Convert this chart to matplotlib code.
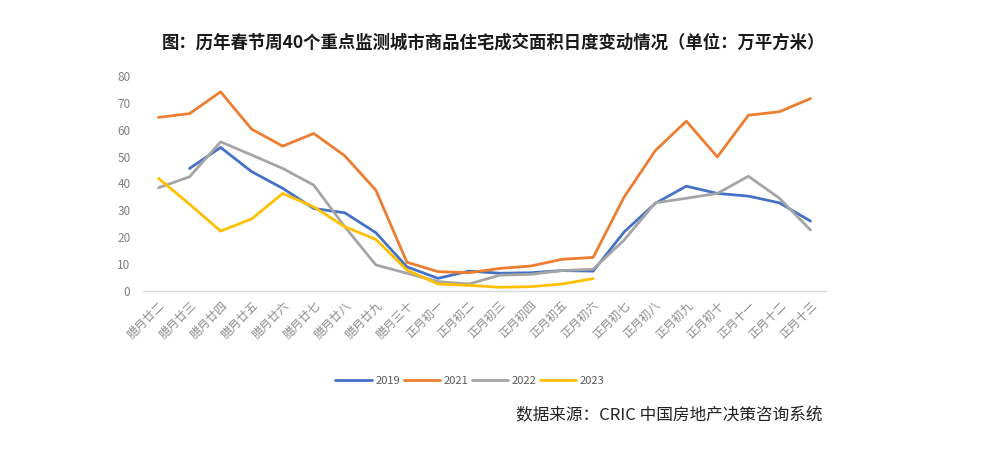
import matplotlib
matplotlib.use("Agg")
import matplotlib.pyplot as plt
import numpy as np

plt.rcParams['font.family'] = ['Noto Sans CJK SC', 'DejaVu Sans']

categories = ["腊月廿二", "腊月廿三", "腊月廿四", "腊月廿五", "腊月廿六", "腊月廿七",
              "腊月廿八", "腊月廿九", "腊月三十", "正月初一", "正月初二", "正月初三",
              "正月初四", "正月初五", "正月初六", "正月初七", "正月初八", "正月初九",
              "正月初十", "正月十一", "正月十二", "正月十三"]

s2019 = [None, 45.6, 53.4, 44.4, 38.2, 30.7, 29.1, 21.7, 9.0, 4.7, 7.4, 6.6,
         6.8, 7.6, 7.4, 22.0, 32.6, 39.0, 36.3, 35.3, 32.8, 26.0]
s2021 = [64.6, 66.0, 74.1, 60.2, 53.9, 58.6, 50.3, 37.5, 10.7, 7.2, 6.8, 8.4,
         9.3, 11.8, 12.5, 35.0, 52.2, 63.2, 49.9, 65.4, 66.7, 71.6]
s2022 = [38.4, 42.5, 55.5, 50.6, 45.6, 39.4, 23.9, 9.7, 6.6, 3.5, 2.6, 5.9,
         6.2, 7.6, 8.1, 19.0, 32.8, 34.5, 36.3, 42.7, 34.5, 22.7]
s2023 = [41.9, 32.3, 22.3, 26.8, 36.3, 31.3, 23.9, 19.2, 7.8, 2.6, 2.1, 1.4,
         1.6, 2.6, 4.6]

series = [("2019", s2019, "#4472C4"), ("2021", s2021, "#ED7D31"),
          ("2022", s2022, "#A5A5A5"), ("2023", s2023, "#FFC000")]

fig = plt.figure(figsize=(10, 4.63), dpi=100)
ax = fig.add_axes([0.143, 0.3715, 0.683, 0.4644])

x = np.arange(len(categories))
for name, vals, col in series:
    v = np.array([np.nan if a is None else a for a in vals], dtype=float)
    ax.plot(x[:len(v)], v, color=col, lw=2.0, label=name, solid_capstyle='round')

ax.set_xlim(-0.5, len(categories) - 0.5)
ax.set_ylim(0, 80)
ax.set_yticks(range(0, 81, 10))
ax.set_xticks(x)
ax.set_xticklabels(categories, rotation=45, ha='right', rotation_mode='anchor',
                   fontsize=8.5, color='#8c8c8c')
ax.tick_params(axis='y', labelsize=8.5, colors='#7f7f7f', length=0, pad=9)
ax.tick_params(axis='x', length=0, pad=6)
for s in ['top', 'right', 'left']:
    ax.spines[s].set_visible(False)
ax.spines['bottom'].set_color('#d9d9d9')
ax.spines['bottom'].set_linewidth(1.0)

fig.text(0.493, 0.908, "图：历年春节周40个重点监测城市商品住宅成交面积日度变动情况（单位：万平方米）",
         ha='center', va='center', fontsize=12.5, fontweight='bold', color='#1a1a1a')

leg = fig.legend(loc='center', bbox_to_anchor=(0.47, 0.177), ncol=4, frameon=False,
                 fontsize=8, handlelength=3.3, handletextpad=0.3, columnspacing=0.3,
                 labelcolor='#595959')

fig.text(0.822, 0.103, "数据来源：CRIC 中国房地产决策咨询系统", ha='right', va='center',
         fontsize=12, color='#222222')

fig.savefig("out.png", dpi=100)
